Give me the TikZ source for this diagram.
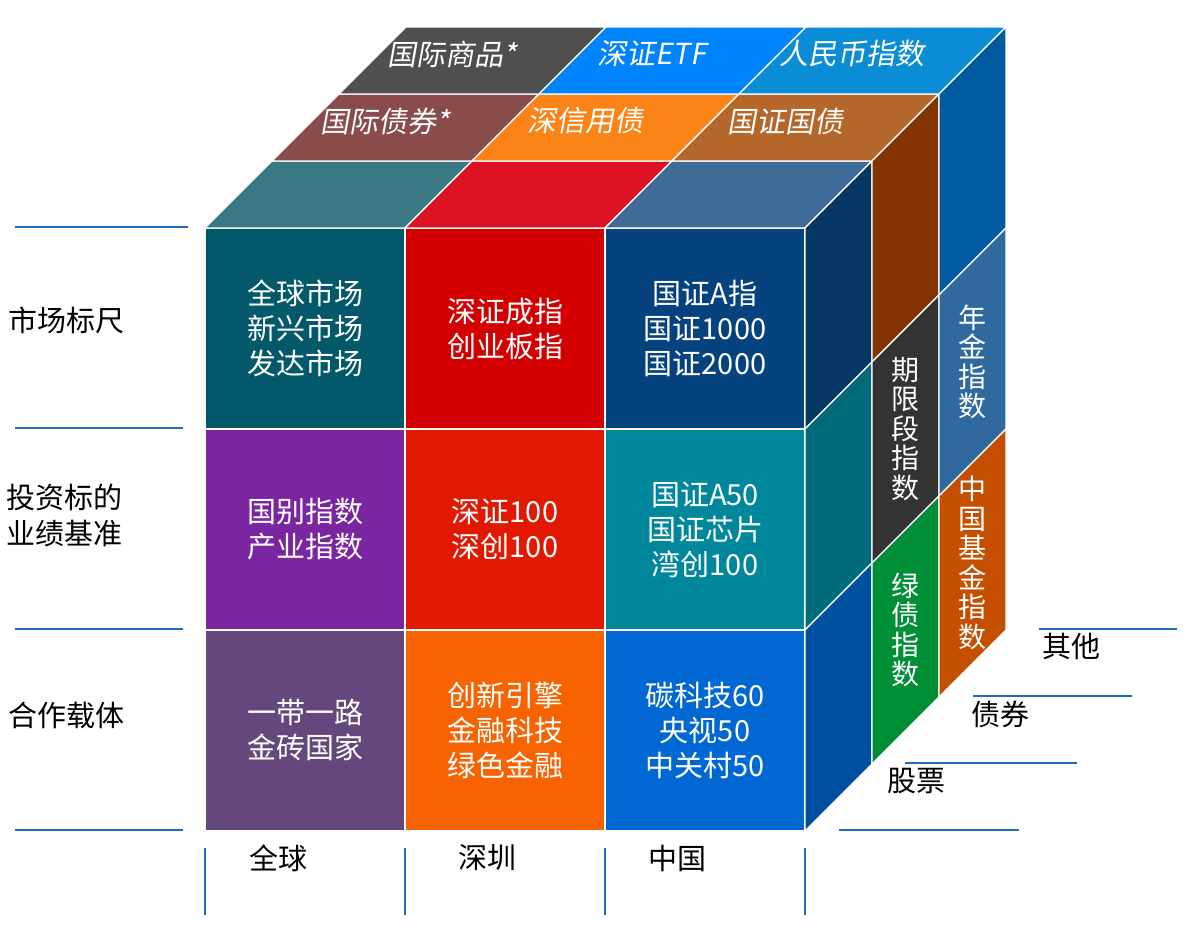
\documentclass[tikz,border=0pt]{standalone}
\usepackage{fontspec}
\setmainfont{Noto Sans CJK SC}
\newfontfamily\slantcjk[FakeSlant=0.18]{Noto Sans CJK SC}
\usetikzlibrary{calc}
\definecolor{frontA}{HTML}{03596A}
\definecolor{frontB}{HTML}{D20000}
\definecolor{frontC}{HTML}{05427E}
\definecolor{frontD}{HTML}{7A26A1}
\definecolor{frontE}{HTML}{E11900}
\definecolor{frontF}{HTML}{00879C}
\definecolor{frontG}{HTML}{64487D}
\definecolor{frontH}{HTML}{F76300}
\definecolor{frontI}{HTML}{0167D2}
\definecolor{topA}{HTML}{3A7883}
\definecolor{topB}{HTML}{DC1224}
\definecolor{topC}{HTML}{3E6C97}
\definecolor{topD}{HTML}{8A4B4B}
\definecolor{topE}{HTML}{FA8418}
\definecolor{topF}{HTML}{B5662A}
\definecolor{topG}{HTML}{4F4F4F}
\definecolor{topH}{HTML}{0084FE}
\definecolor{topI}{HTML}{0B8DD5}
\definecolor{sideA}{HTML}{043863}
\definecolor{sideB}{HTML}{006C7B}
\definecolor{sideC}{HTML}{0050A2}
\definecolor{sideD}{HTML}{843400}
\definecolor{sideE}{HTML}{333333}
\definecolor{sideF}{HTML}{008E37}
\definecolor{sideG}{HTML}{005A9F}
\definecolor{sideH}{HTML}{2F6A9E}
\definecolor{sideI}{HTML}{C44F00}
\definecolor{axisblue}{HTML}{1E6CC0}
\tikzstyle{face}=[draw=white, line width=1.2pt, line join=round]
\tikzstyle{celltext}=[text=white, align=center, inner sep=0pt, font=\fontsize{29}{35}\selectfont]
\tikzstyle{toptext}=[text=white, inner sep=0pt, font=\slantcjk\fontsize{29}{34}\selectfont]
\tikzstyle{sidetext}=[text=white, align=center, inner sep=0pt, font=\fontsize{28}{29.5}\selectfont]
\tikzstyle{annot}=[text=black, align=left, inner sep=0pt, font=\fontsize{29}{36}\selectfont]
\tikzstyle{axis}=[draw=axisblue, line width=2pt]
\newcommand{\frontcell}[5]
{
  \path[face, fill=#3] ({205+200*#1},{228+201*#2}) rectangle ++(200,201);
  \node[celltext](#4) at ({305+200*#1},{328.5+201*#2}){#5};
}
\newcommand{\topface}[3]
{
  \path[face, fill=#3] ({205+200*#1+67*#2},{228-67*#2}) -- ++(200,0) -- ++(67,-67) -- ++(-200,0) -- cycle;
}
\newcommand{\topcell}[5]
{
  \topface{#1}{#2}{#3}
  \node[toptext](#4) at ({318+200*#1+67*#2},{188-67*#2}){#5};
}
\newcommand{\sidecell}[5]
{
  \path[face, fill=#3] ({805+67*#2},{228+201*#1-67*#2}) -- ++(67,-67) -- ++(0,201) -- ++(-67,67) -- cycle;
  \node[sidetext](#4) at ({838.5+67*#2},{295+201*#1-67*#2}){#5};
}
\begin{document}
\begin{tikzpicture}[x=1pt, y=-1pt]
	\useasboundingbox (0,0) rectangle (1198,930);

	\frontcell{0}{0}{frontA}{global}{全球市场\\新兴市场\\发达市场}
	\frontcell{1}{0}{frontB}{szindex}{深证成指\\创业板指}
	\frontcell{2}{0}{frontC}{cnindex}{国证A指\\国证1000\\国证2000}
	\frontcell{0}{1}{frontD}{country}{国别指数\\产业指数}
	\frontcell{1}{1}{frontE}{sz100}{深证100\\深创100}
	\frontcell{2}{1}{frontF}{cnA50}{国证A50\\国证芯片\\湾创100}
	\frontcell{0}{2}{frontG}{belt}{一带一路\\金砖国家}
	\frontcell{1}{2}{frontH}{innov}{创新引擎\\金融科技\\绿色金融}
	\frontcell{2}{2}{frontI}{carbon}{碳科技60\\央视50\\中关村50}

	\topface{0}{0}{topA}
	\topface{1}{0}{topB}
	\topface{2}{0}{topC}
	\topcell{0}{1}{topD}{intlbond}{国际债券*}
	\topcell{1}{1}{topE}{szcredit}{深信用债}
	\topcell{2}{1}{topF}{cnbond}{国证国债}
	\topcell{0}{2}{topG}{intlcomm}{国际商品*}
	\topcell{1}{2}{topH}{szetf}{深证ETF}
	\topcell{2}{2}{topI}{rmb}{人民币指数}

	\sidecell{0}{0}{sideA}{sideA}{}
	\sidecell{1}{0}{sideB}{sideB}{}
	\sidecell{2}{0}{sideC}{sideC}{}
	\sidecell{0}{1}{sideD}{sideD}{}
	\sidecell{1}{1}{sideE}{term}{期\\限\\段\\指\\数}
	\sidecell{2}{1}{sideF}{green}{绿\\债\\指\\数}
	\sidecell{0}{2}{sideG}{sideG}{}
	\sidecell{1}{2}{sideH}{pension}{年\\金\\指\\数}
	\sidecell{2}{2}{sideI}{fund}{中\\国\\基\\金\\指\\数}

	% left axis
	\draw[axis] (15,227) -- (188,227);
	\draw[axis] (15,428) -- (183,428);
	\draw[axis] (15,629) -- (183,629);
	\draw[axis] (15,830) -- (183,830);
	\node[annot, anchor=west](scale) at (8,320){市场标尺};
	\node[annot, anchor=west](bench) at (6,515){投资标的\\业绩基准};
	\node[annot, anchor=west](carrier) at (8,715){合作载体};

	% bottom axis
	\draw[axis] (205,848) -- (205,915);
	\draw[axis] (405,848) -- (405,915);
	\draw[axis] (605,848) -- (605,915);
	\draw[axis] (805,848) -- (805,915);
	\node[annot](world) at (278,858){全球};
	\node[annot](shenzhen) at (487,858){深圳};
	\node[annot](china) at (677,858){中国};

	% depth axis
	\draw[axis] (839,830) -- (1019,830);
	\draw[axis] (905,763) -- (1077,763);
	\draw[axis] (973,696) -- (1132,696);
	\draw[axis] (1039,629) -- (1177,629);
	\node[annot](stock) at (916,781){股票};
	\node[annot](bond) at (1000,714){债券};
	\node[annot](other) at (1071,646){其他};
\end{tikzpicture}
\end{document}
